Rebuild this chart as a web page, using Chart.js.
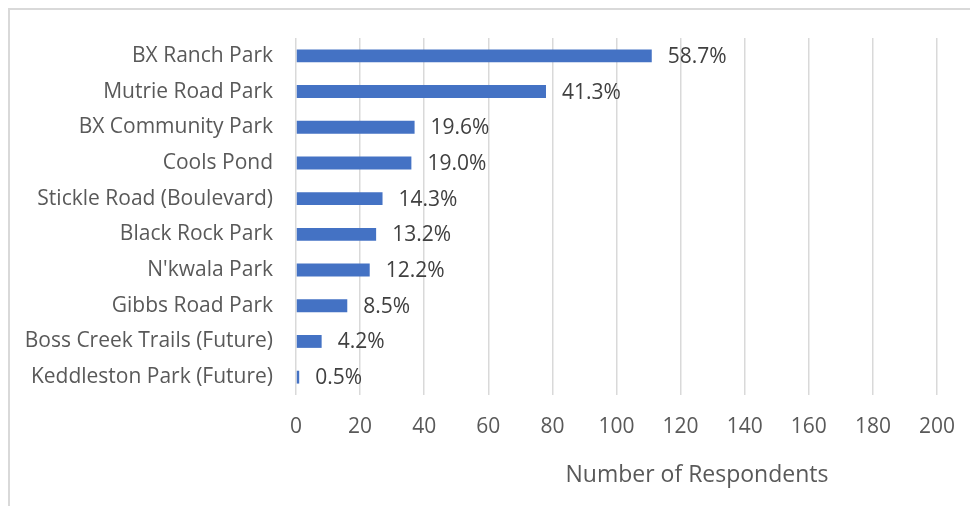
<!DOCTYPE html>
<html>
<head>
<meta charset="utf-8">
<script src="https://cdn.jsdelivr.net/npm/chart.js@4.4.0/dist/chart.umd.min.js"></script>
<style>
    html, body { margin: 0; padding: 0; background: #fff; overflow: hidden; }
    #frame { position: absolute; left: 8px; top: 8px; width: 2000px; height: 2000px; border: 2px solid #d9d9d9; }
    #chart { position: absolute; left: 0; top: 0; }
</style>
</head>
<body>
<div id="frame"></div>
<canvas id="chart" width="970" height="506"></canvas>
<script>
    "use strict";

    const parks = [
        'BX Ranch Park',
        'Mutrie Road Park',
        'BX Community Park',
        'Cools Pond',
        'Stickle Road (Boulevard)',
        'Black Rock Park',
        "N'kwala Park",
        'Gibbs Road Park',
        'Boss Creek Trails (Future)',
        'Keddleston Park (Future)'
    ];
    const respondents = [111, 78, 37, 36, 27, 25, 23, 16, 8, 1];
    const pctLabels = ['58.7%', '41.3%', '19.6%', '19.0%', '14.3%', '13.2%', '12.2%', '8.5%', '4.2%', '0.5%'];
    const xTicks = [0, 20, 40, 60, 80, 100, 120, 140, 160, 180, 200];
    const xTitle = 'Number of Respondents';

    const FONT = '"Open Sans", "DejaVu Sans", sans-serif';

    // draws the percentage next to each bar, using the bar element positions
    const barLabels = {
        id: 'barLabels',
        afterDatasetsDraw: (chart)=>{
            const ctx = chart.ctx;
            const meta = chart.getDatasetMeta(0);
            ctx.save();
            ctx.font = '21px ' + FONT;
            ctx.fillStyle = '#404040';
            ctx.textAlign = 'left';
            ctx.textBaseline = 'middle';
            meta.data.forEach((bar, i)=>{
                ctx.fillText(pctLabels[i], bar.x + 16, bar.y + 1);
            });
            ctx.restore();
        }
    };

    // axis title sits off-centre in the original (centred on the whole chart box)
    const axisTitle = {
        id: 'axisTitle',
        afterDraw: (chart)=>{
            const ctx = chart.ctx;
            ctx.save();
            ctx.font = '23px ' + FONT;
            ctx.fillStyle = '#595959';
            ctx.textAlign = 'center';
            ctx.textBaseline = 'middle';
            ctx.fillText(xTitle, chart.chartArea.left + 401, chart.chartArea.bottom + 80);
            ctx.restore();
        }
    };

    new Chart(document.getElementById('chart').getContext('2d'), {
        type: 'bar',
        data: {
            labels: parks,
            datasets: [{
                data: respondents,
                backgroundColor: '#4472C4',
                barPercentage: 0.36,
                categoryPercentage: 1
            }]
        },
        options: {
            indexAxis: 'y',
            responsive: false,
            animation: false,
            layout: { padding: { left: 0, right: 33, top: 38, bottom: 0 } },
            plugins: {
                legend: { display: false },
                tooltip: { enabled: false }
            },
            scales: {
                x: {
                    min: 0,
                    max: 200,
                    afterBuildTicks: (scale)=>{ scale.ticks = xTicks.map(v=>({ value: v })); },
                    afterFit: (scale)=>{
                        scale.height = 111;
                        scale.paddingLeft = 0;
                        scale.paddingRight = 0;
                    },
                    border: { display: false },
                    grid: { color: '#d9d9d9', lineWidth: 1.5, drawTicks: false },
                    ticks: { color: '#595959', font: { family: FONT, size: 21 }, padding: 19, maxRotation: 0 }
                },
                y: {
                    afterFit: (scale)=>{ scale.width = 296; },
                    border: { display: false },
                    grid: { display: false, drawTicks: false },
                    ticks: { color: '#595959', font: { family: FONT, size: 21 }, padding: 23 }
                }
            }
        },
        plugins: [barLabels, axisTitle]
    });
</script>
</body>
</html>
